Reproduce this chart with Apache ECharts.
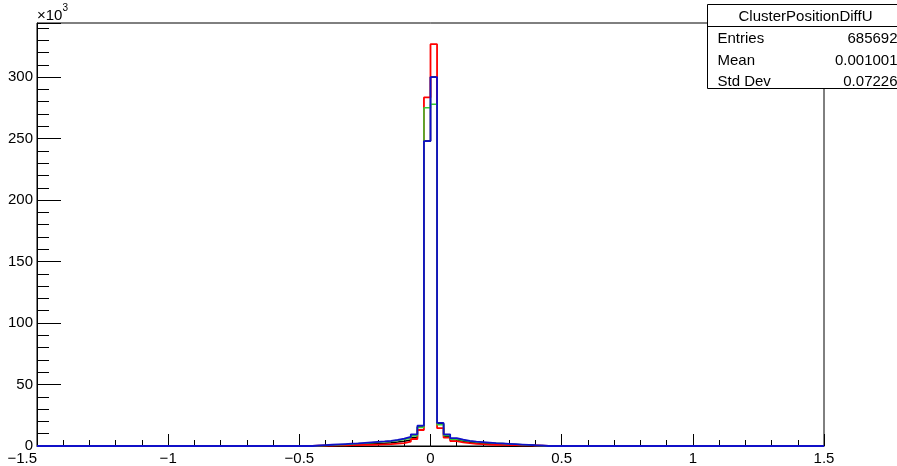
<!DOCTYPE html>
<html>
<head>
<meta charset="utf-8">
<script src="https://cdn.jsdelivr.net/npm/echarts@6/dist/echarts.min.js"></script>
<style>
  html, body { margin: 0; padding: 0; background: #fff; }
  #chart { width: 897px; height: 466px; }
</style>
</head>
<body>
<div id="chart"></div>
<script>
  // bin edges (left edges of the non-empty bins plus the closing edge), bin width 0.025
  const binEdges = [
    -0.45, -0.425, -0.4, -0.375, -0.35, -0.325, -0.3, -0.275, -0.25, -0.225,
    -0.2, -0.175, -0.15, -0.125, -0.1, -0.075, -0.05, -0.025, 0, 0.025,
    0.05, 0.075, 0.1, 0.125, 0.15, 0.175, 0.2, 0.225, 0.25, 0.275,
    0.3, 0.325, 0.35, 0.375, 0.4, 0.425, 0.45
  ];
  const xMin = -1.5;
  const xMax = 1.5;
  const yTicks = [0, 50, 100, 150, 200, 250, 300];

  // counts in units of 10^3
  const histBlack = [
    0.3, 0.5, 0.6, 0.8, 1.0, 1.2, 1.4, 1.6, 1.8, 2.0,
    2.3, 2.7, 3.2, 3.8, 4.8, 7.0, 15.5, 248, 300, 18,
    8.0, 5.0, 3.8, 3.0, 2.5, 2.1, 1.8, 1.5, 1.3, 1.1,
    0.9, 0.7, 0.5, 0.4, 0.2, 0
  ];
  const histRed = [
    0.2, 0.3, 0.4, 0.5, 0.6, 0.7, 0.8, 0.9, 1.0, 1.2,
    1.4, 1.6, 1.9, 2.4, 3.5, 5.7, 13, 283.5, 326.8, 14.5,
    6.8, 4.0, 3.0, 2.3, 1.8, 1.5, 1.2, 1.0, 0.9, 0.8,
    0.7, 0.6, 0.5, 0.4, 0.3, 0
  ];
  const histGreen = [
    0.3, 0.5, 0.8, 1.0, 1.3, 1.6, 2.0, 2.3, 2.7, 3.0,
    3.4, 3.8, 4.5, 5.2, 6.5, 8.4, 15, 275, 278, 17.2,
    8.5, 5.5, 4.5, 3.8, 3.3, 2.9, 2.6, 2.3, 2.0, 1.7,
    1.4, 1.1, 0.8, 0.5, 0.3, 0
  ];
  const histBlue = [
    0.4, 0.7, 1.0, 1.3, 1.6, 1.9, 2.2, 2.6, 3.0, 3.4,
    3.7, 4.1, 5.0, 6.0, 7.5, 9.5, 16.5, 248, 300, 18.8,
    9.5, 6.4, 5.2, 4.2, 3.6, 3.2, 2.8, 2.4, 2.1, 1.8,
    1.5, 1.2, 0.9, 0.6, 0.4, 0
  ];

  // 直方图轮廓: 每个 bin 左边沿一个点, step 'end'
  const buildSteps = (values) => {
    const pts = [[xMin, 0]];
    values.forEach((v, i) => pts.push([binEdges[i], v]));
    pts.push([binEdges[binEdges.length - 1], 0]);
    pts.push([xMax, 0]);
    return pts;
  };

  const histSeries = (name, values, color, width) => ({
    name: name,
    type: "line",
    step: "end",
    symbol: "none",
    silent: true,
    clip: false,
    lineStyle: { color: color, width: width },
    data: buildSteps(values)
  });

  const myChart = echarts.init(document.getElementById("chart"));
  const fontFamily = "'Liberation Sans', Arial, sans-serif";

  const option = {
    animation: false,
    backgroundColor: "#fff",
    grid: {
      left: 37,
      right: 73,
      top: 23,
      bottom: 19,
      show: true,
      borderColor: "#000",
      borderWidth: 1,
      backgroundColor: "transparent"
    },
    xAxis: {
      type: "value",
      min: xMin,
      max: xMax,
      interval: 0.5,
      splitLine: { show: false },
      axisLine: { show: true, onZero: false, lineStyle: { color: "#000", width: 1 } },
      axisTick: { show: true, inside: true, length: 12, lineStyle: { color: "#000" } },
      minorTick: { show: true, splitNumber: 5, length: 6, lineStyle: { color: "#000" } },
      axisLabel: {
        color: "#000",
        fontSize: 15,
        fontFamily: fontFamily,
        margin: 5,
        alignMinLabel: "right",
        formatter: (v) => String(v).replace("-", "\u2212")
      }
    },
    yAxis: {
      type: "value",
      min: 0,
      max: 344,
      interval: 50,
      splitLine: { show: false },
      axisLine: { show: true, onZero: false, lineStyle: { color: "#000", width: 1 } },
      axisTick: { show: true, inside: true, length: 24, lineStyle: { color: "#000" } },
      minorTick: { show: true, splitNumber: 5, length: 12, lineStyle: { color: "#000" } },
      axisLabel: {
        color: "#000",
        fontSize: 15,
        fontFamily: fontFamily,
        margin: 4,
        formatter: (v) => (yTicks.indexOf(v) >= 0 ? String(v) : "")
      }
    },
    series: [
      histSeries("black", histBlack, "#000000", 1.5),
      histSeries("red", histRed, "#ff0000", 1.8),
      histSeries("green", histGreen, "#33cc33", 1.5),
      histSeries("blue", histBlue, "#1010c8", 1.8)
    ],
    graphic: [
      {
        type: "text",
        left: 37,
        top: 3,
        style: {
          text: "{a|\u00d710}{b|3}",
          fill: "#000",
          rich: {
            a: { fontSize: 15, fontFamily: fontFamily, verticalAlign: "bottom", lineHeight: 20 },
            b: { fontSize: 10, fontFamily: fontFamily, verticalAlign: "top", lineHeight: 20, padding: [0, 0, 8, 0] }
          }
        }
      },
      {
        type: "group",
        left: 705,
        top: 4,
        children: [
          {
            type: "rect",
            shape: { x: 0, y: 0, width: 200, height: 84 },
            style: { fill: "#fff", stroke: "#000", lineWidth: 1 }
          },
          {
            type: "line",
            shape: { x1: 0, y1: 22, x2: 200, y2: 22 },
            style: { stroke: "#000", lineWidth: 1 }
          },
          {
            type: "text",
            x: 98, y: 12,
            style: { text: "ClusterPositionDiffU", fontSize: 15, fontFamily: fontFamily, fill: "#000", align: "center", verticalAlign: "middle" }
          },
          {
            type: "text",
            x: 10, y: 34,
            style: { text: "Entries", fontSize: 15, fontFamily: fontFamily, fill: "#000", verticalAlign: "middle" }
          },
          {
            type: "text",
            x: 190, y: 34,
            style: { text: "685692", fontSize: 15, fontFamily: fontFamily, fill: "#000", align: "right", verticalAlign: "middle" }
          },
          {
            type: "text",
            x: 10, y: 56,
            style: { text: "Mean", fontSize: 15, fontFamily: fontFamily, fill: "#000", verticalAlign: "middle" }
          },
          {
            type: "text",
            x: 190, y: 56,
            style: { text: "0.001001", fontSize: 15, fontFamily: fontFamily, fill: "#000", align: "right", verticalAlign: "middle" }
          },
          {
            type: "text",
            x: 10, y: 77,
            style: { text: "Std Dev", fontSize: 15, fontFamily: fontFamily, fill: "#000", verticalAlign: "middle" }
          },
          {
            type: "text",
            x: 190, y: 77,
            style: { text: "0.07226", fontSize: 15, fontFamily: fontFamily, fill: "#000", align: "right", verticalAlign: "middle" }
          }
        ]
      }
    ]
  };

  myChart.setOption(option);
  window.addEventListener("resize", () => myChart.resize());
</script>
</body>
</html>
